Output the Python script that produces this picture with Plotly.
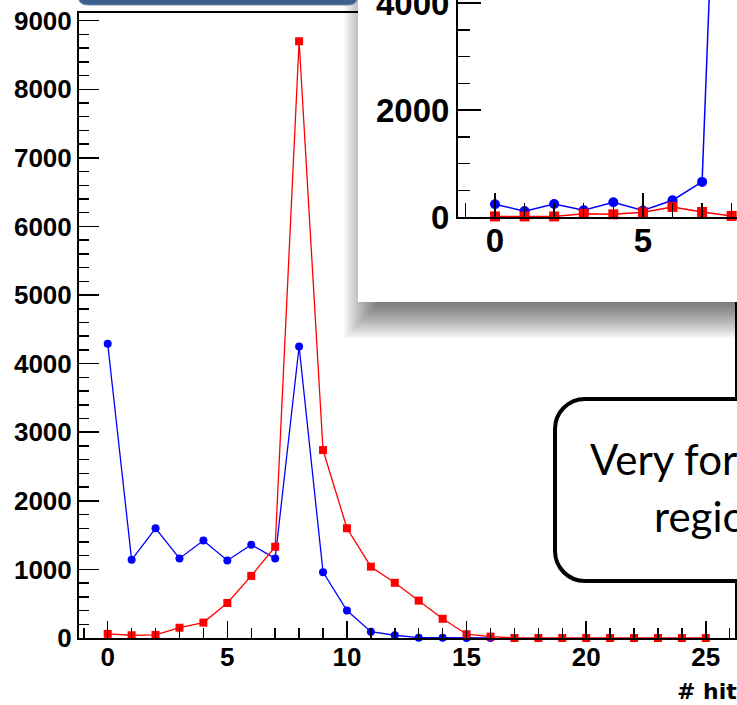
import plotly.graph_objects as go

# ---- data: number of hits per event ----
hits_main_blue = list(range(0, 17))
counts_main_blue = [4290, 1140, 1600, 1160, 1420, 1130, 1360, 1160, 4250,
                    960, 400, 92, 40, 5, 5, 0, 0]

hits_main_red = list(range(0, 26))
counts_main_red = [60, 40, 45, 150, 225, 510, 905, 1330, 8700, 2740, 1600,
                   1040, 805, 545, 280, 55, 20, 0, 0, 0, 0, 0, 0, 0, 0, 0]

hits_inset = list(range(0, 9))
counts_inset_blue = [238, 110, 244, 125, 275, 120, 313, 656, 15000]
counts_inset_red = [10, 10, 10, 63, 50, 88, 188, 94, 20]

main_xticks = [0, 5, 10, 15, 20, 25]
main_yticks = [0, 1000, 2000, 3000, 4000, 5000, 6000, 7000, 8000, 9000]
inset_xticks = [0, 5]
inset_yticks = [0, 2000, 4000]

x_title = "# hits"
box_lines = ["Very forward", "region"]

# ---- page geometry helpers (pixels -> paper fractions) ----
W, H = 737, 705


def fx(p):
    return p / W


def fy(p):
    return 1 - p / H


BLUE = "#0000ff"
RED = "#ff0000"
AXIS_FONT = "Liberation Sans"

fig = go.Figure()

# main histogram
fig.add_trace(go.Scatter(x=hits_main_blue, y=counts_main_blue, mode="lines+markers",
                         line=dict(color=BLUE, width=1.3),
                         marker=dict(symbol="circle", size=8, color=BLUE),
                         cliponaxis=False, xaxis="x", yaxis="y"))
fig.add_trace(go.Scatter(x=hits_main_red, y=counts_main_red, mode="lines+markers",
                         line=dict(color=RED, width=1.3),
                         marker=dict(symbol="square", size=8, color=RED),
                         cliponaxis=False, xaxis="x", yaxis="y"))

# inset histogram
fig.add_trace(go.Scatter(x=hits_inset, y=counts_inset_blue, mode="lines+markers",
                         line=dict(color=BLUE, width=1.5),
                         marker=dict(symbol="circle", size=10, color=BLUE),
                         cliponaxis=False, xaxis="x3", yaxis="y3"))
fig.add_trace(go.Scatter(x=hits_inset, y=counts_inset_red, mode="lines+markers",
                         line=dict(color=RED, width=1.5),
                         marker=dict(symbol="square", size=10, color=RED),
                         cliponaxis=False, xaxis="x3", yaxis="y3"))

tick_main = dict(family=AXIS_FONT, size=26, color="black", weight="bold")
tick_inset = dict(family=AXIS_FONT, size=33, color="black", weight="bold")

shapes = []

# drop shadow + white panel behind the inset (drawn in the panel subplot, pixel units)
N = 24
B = 20.0
for k in range(N):
    b = -B + 2 * B * k / (N - 1)
    shapes.append(dict(type="rect", xref="x2", yref="y2", layer="below",
                       x0=364 - b, x1=900, y0=-60, y1=318 + b,
                       fillcolor="rgba(0,0,0,0.03)", line=dict(width=0)))
shapes.append(dict(type="rect", xref="x2", yref="y2", layer="below",
                   x0=358, x1=900, y0=-60, y1=302,
                   fillcolor="white", line=dict(width=0)))

# title banner at the top edge
bx0, bx1, by1, r = 78, 358, 5, 10
banner = (f"M {fx(bx0)} {fy(-40)} L {fx(bx0)} {fy(by1 - r)} "
          f"Q {fx(bx0)} {fy(by1)} {fx(bx0 + r)} {fy(by1)} "
          f"L {fx(bx1 - r)} {fy(by1)} Q {fx(bx1)} {fy(by1)} {fx(bx1)} {fy(by1 - r)} "
          f"L {fx(bx1)} {fy(-40)} Z")
shapes.append(dict(type="path", xref="paper", yref="paper", layer="above",
                   path=banner, fillcolor="#3d5f8e", line=dict(color="#6d87ad", width=1)))

# rounded call-out box
cx0, cx1, cy0, cy1, cr = 555, 900, 399, 581, 30
k = 0.5523 * cr
box = (f"M {fx(cx0 + cr)} {fy(cy0)} L {fx(cx1)} {fy(cy0)} L {fx(cx1)} {fy(cy1)} "
       f"L {fx(cx0 + cr)} {fy(cy1)} "
       f"C {fx(cx0 + cr - k)} {fy(cy1)} {fx(cx0)} {fy(cy1 - cr + k)} {fx(cx0)} {fy(cy1 - cr)} "
       f"L {fx(cx0)} {fy(cy0 + cr)} "
       f"C {fx(cx0)} {fy(cy0 + cr - k)} {fx(cx0 + cr - k)} {fy(cy0)} {fx(cx0 + cr)} {fy(cy0)} Z")
shapes.append(dict(type="path", xref="paper", yref="paper", layer="above",
                   path=box, fillcolor="white", line=dict(color="black", width=4)))

annotations = [
    dict(text=x_title, xref="paper", yref="paper", x=fx(675), y=fy(691),
         xanchor="left", yanchor="middle", showarrow=False,
         font=dict(family="DejaVu Sans", size=22, color="black", weight="bold")),
    dict(text=box_lines[0], xref="paper", yref="paper", x=fx(588), y=fy(459),
         xanchor="left", yanchor="middle", showarrow=False,
         font=dict(family="Lato", size=42, color="black")),
    dict(text=box_lines[1], xref="paper", yref="paper", x=fx(652), y=fy(516),
         xanchor="left", yanchor="middle", showarrow=False,
         font=dict(family="Lato", size=42, color="black")),
]

fig.update_layout(
    width=W, height=H, autosize=False,
    margin=dict(l=0, r=0, t=0, b=0, pad=0, autoexpand=False),
    paper_bgcolor="white", plot_bgcolor="rgba(0,0,0,0)",
    showlegend=False,
    xaxis=dict(domain=[fx(79), fx(735)], range=[-1.2, 26.22], anchor="y",
               automargin=False,
               showline=True, linecolor="black", linewidth=2, mirror=True,
               showgrid=False, zeroline=False,
               tickmode="array", tickvals=main_xticks, ticklabelstandoff=-5,
               ticks="inside", ticklen=17, tickwidth=1.5, tickcolor="black",
               minor=dict(ticks="inside", ticklen=10, tickwidth=1.5, tickcolor="black",
                          dtick=1, tick0=0, showgrid=False),
               tickfont=tick_main),
    yaxis=dict(domain=[fy(638), fy(13)], range=[0, 9112], anchor="x",
               automargin=False,
               showline=True, linecolor="black", linewidth=2, mirror=True,
               showgrid=False, zeroline=False,
               tickmode="array", tickvals=main_yticks,
               ticks="inside", ticklen=20, tickwidth=1.5, tickcolor="black",
               minor=dict(ticks="inside", ticklen=10, tickwidth=1.5, tickcolor="black",
                          dtick=200, tick0=0, showgrid=False),
               tickfont=tick_main),
    # panel subplot holding the inset's backdrop, in pixel units
    xaxis2=dict(domain=[fx(330), 1], range=[330, W], anchor="y2", visible=False,
                automargin=False),
    yaxis2=dict(domain=[fy(350), 1], range=[350, 0], anchor="x2", visible=False,
                automargin=False),
    # inset axes
    xaxis3=dict(domain=[fx(458), 1], range=[-1.25, 8.18], anchor="y3",
                automargin=False,
                showline=True, linecolor="black", linewidth=2,
                showgrid=False, zeroline=False,
                tickmode="array", tickvals=inset_xticks, ticklabelstandoff=-7,
                ticks="inside", ticklen=24, tickwidth=1.5, tickcolor="black",
                minor=dict(ticks="inside", ticklen=14, tickwidth=1.5, tickcolor="black",
                           dtick=1, tick0=0, showgrid=False),
                tickfont=tick_inset),
    yaxis3=dict(domain=[fy(217), 1], range=[0, 4056], anchor="x3",
                automargin=False, ticklabeloverflow="allow",
                showline=True, linecolor="black", linewidth=2,
                showgrid=False, zeroline=False,
                tickmode="array", tickvals=inset_yticks,
                ticks="inside", ticklen=23, tickwidth=1.5, tickcolor="black",
                minor=dict(ticks="inside", ticklen=12, tickwidth=1.5, tickcolor="black",
                           dtick=500, tick0=0, showgrid=False),
                tickfont=tick_inset),
    shapes=shapes,
    annotations=annotations,
)

fig.write_html("out.html", config=dict(displayModeBar=False, staticPlot=True),
               post_script="document.body.style.margin='0';")
